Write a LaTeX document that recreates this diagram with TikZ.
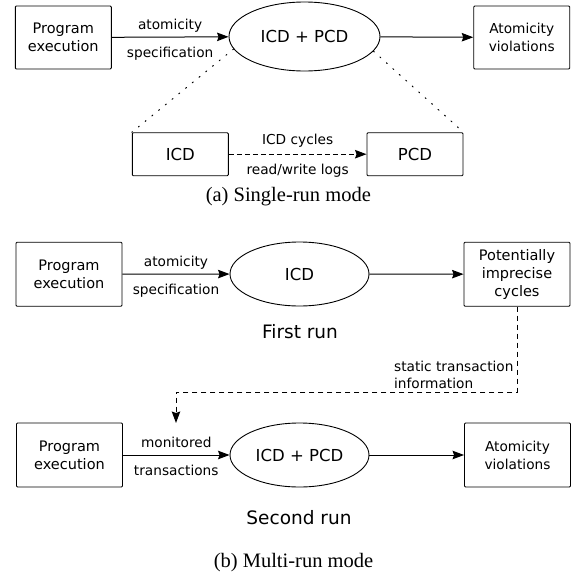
\documentclass[tikz,border=0pt]{standalone}
\usepackage{fontspec}
\setmainfont{DejaVu Sans}
\newfontfamily\capfont{Liberation Serif}
\usetikzlibrary{arrows.meta,positioning,shapes.geometric}

\begin{document}
\begin{tikzpicture}[x=1pt,y=-1pt,
  box/.style={draw,rounded corners=1pt,line width=.9pt,minimum width=106pt,
    minimum height=64pt,inner sep=2pt,align=center,
    font=\fontsize{14.5}{18}\selectfont},
  narrow/.style={box,minimum width=96pt,minimum height=63pt},
  part/.style={box,minimum width=96pt,minimum height=43pt,
    font=\fontsize{16.5}{20}\selectfont},
  oval/.style={draw,ellipse,line width=.9pt,inner sep=0pt,
    minimum width=139pt,minimum height=64pt,
    font=\fontsize{16.5}{20}\selectfont},
  tag/.style={font=\fontsize{13.7}{17}\selectfont,inner sep=2pt,
    text height=10pt,text depth=3pt},
  run/.style={font=\fontsize{18.5}{22}\selectfont},
  mode/.style={font=\capfont\fontsize{20.5}{24}\selectfont},
  flow/.style={-{Stealth[length=11.5pt,width=8.5pt,inset=1.5pt]},line width=1pt},
  feed/.style={flow,dash pattern=on 5pt off 3pt},
  hint/.style={line width=1pt,dash pattern=on 1.2pt off 7.5pt,line cap=round}]
\useasboundingbox (0,0) rectangle (572,576);

% (a) single run
\node[narrow] (exec) at (63.3,37.5) {Program\\execution};
\node[oval,minimum width=151pt,minimum height=69pt] (detect) at (304.5,36.5) {ICD + PCD};
\node[narrow,font=\fontsize{13.7}{18}\selectfont] (report) at (521.7,37.5) {Atomicity\\violations};
\node[part] (icd) at (180.3,154.2) {ICD};
\node[part] (pcd) at (415,154.2) {PCD};
\draw[flow] (exec) -- node[tag,above=2pt] {atomicity}
  node[tag,below=7.5pt] {specification} (detect);
\draw[flow] (detect) -- (report);
\draw[hint] (detect.190) -- (icd.north west);
\draw[hint] (detect.-12) -- (pcd.north east);
\draw[feed] (icd) -- node[tag,above=4pt] {ICD cycles}
  node[tag,below=7.5pt] {read/write logs} (pcd);
\node[mode] (capa) at (288.3,197) {(a) Single-run mode};

% (b) multi run, first pass
\node[box] (exec2) at (69,274.2) {Program\\execution};
\node[oval] (icdonly) at (299.5,274) {ICD};
\node[box] (imprecise) at (517,274.2) {Potentially\\imprecise\\cycles};
\draw[flow] (exec2) -- node[tag,above=2pt] {atomicity}
  node[tag,below=7.5pt] {specification} (icdonly);
\draw[flow] (icdonly) -- (imprecise);
\node[run] (first) at (300,332) {First run};

% second pass
\node[box] (exec3) at (69.5,455) {Program\\execution};
\node[oval] (detect3) at (299.5,455) {ICD + PCD};
\node[box,font=\fontsize{13.7}{18}\selectfont] (report3) at (517.5,455) {Atomicity\\violations};
\coordinate (turn) at (176,392);
\coordinate (drop) at (176,423);
\draw[flow,dash pattern=on 5pt off 4pt] (imprecise.south) |-
  node[pos=.5,anchor=south east,align=left,inner sep=3pt,
    font=\fontsize{13.7}{17}\selectfont] {static transaction\\information}
  (turn) -- (drop);
\draw[flow] (exec3) -- node[tag,above=2pt] {monitored}
  node[tag,below=7.5pt] {transactions} (detect3);
\draw[flow] (detect3) -- (report3);
\node[run] (second) at (299,518) {Second run};
\node[mode] (capb) at (293.5,563) {(b) Multi-run mode};
\end{tikzpicture}
\end{document}
